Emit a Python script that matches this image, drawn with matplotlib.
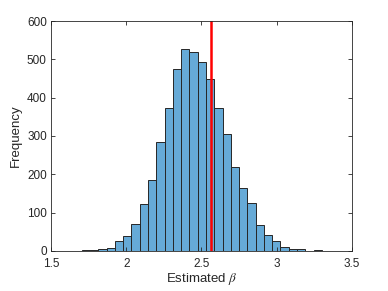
import matplotlib.pyplot as plt
import numpy as np

# Histogram of estimated beta (counts)
bin_start = 1.65
bin_width = 0.055
counts = [1, 2, 2, 5, 7, 26, 38, 70, 123, 184, 284, 373, 474, 526, 520,
          492, 450, 372, 305, 218, 164, 126, 67, 43, 27, 11, 4, 4, 1, 3]
true_beta = 2.565

edges = bin_start + bin_width * np.arange(len(counts) + 1)
centers = 0.5 * (edges[:-1] + edges[1:])

plt.rcParams['font.family'] = ['Liberation Sans', 'DejaVu Sans']
plt.rcParams['mathtext.fontset'] = 'stix'

fig = plt.figure(figsize=(3.88, 2.91), dpi=100)
ax = fig.add_axes([0.1314, 0.1375, 0.7756, 0.7903])

bar_color = (0.4, 0.668, 0.845)
ax.hist(centers, bins=edges, weights=counts, color=bar_color,
        edgecolor='#262626', linewidth=0.7)
ax.axvline(true_beta, color='red', linewidth=1.8)

ax.set_xlim(1.5, 3.5)
ax.set_ylim(0, 600)
ax.set_xticks([1.5, 2, 2.5, 3, 3.5])
ax.set_xticklabels(['1.5', '2', '2.5', '3', '3.5'])
ax.set_yticks(np.arange(0, 601, 100))

gray = '#262626'
ax.tick_params(direction='in', top=True, right=True, length=3, width=0.6,
               labelsize=8.5, colors=gray)
ax.tick_params(axis='x', pad=5)
ax.tick_params(axis='y', pad=3)
for s in ax.spines.values():
    s.set_linewidth(0.6)
    s.set_color(gray)

ax.set_xlabel(r'Estimated $\beta$', fontsize=9.5, color=gray, labelpad=1)
ax.set_ylabel('Frequency', fontsize=9.5, color=gray, labelpad=4)

fig.savefig('out.png', dpi=100)
